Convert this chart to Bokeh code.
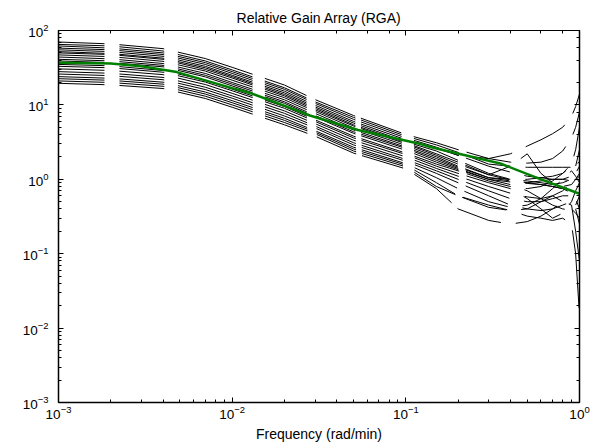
from bokeh.plotting import figure
from bokeh.models import LogAxis, Range1d
from bokeh.embed import file_html
from bokeh.resources import INLINE

# Frequency grid (rad/min) for the RGA element curves
freq = [0.001, 0.002, 0.004, 0.007, 0.01, 0.02, 0.03, 0.05, 0.1, 0.15,
        0.2, 0.3, 0.4, 0.5, 0.6, 0.7, 0.8, 0.9, 0.95, 1.0]

rga_01 = [70, 66, 57, 42, 32, 18.5, 11.8, 7.2, 4.0, 3.1, 2.5, 1.9, 1.7, 1.65, 1.7, 1.9, 2.4, 3.6, 5.0, 8.0]
rga_02 = [65, 62, 53, 39, 29.5, 17, 11, 6.8, 3.8, 2.9, 2.3, 1.6, 1.5, 1.45, 1.45, 1.45, 1.45, 1.45, 1.5, 1.6]
rga_03 = [62, 58, 50, 37, 28, 16.2, 10.5, 6.4, 3.6, 2.7, 2.1, 1.5, 1.25, 1.1, 1.05, 1.0, 1.0, 1.1, 1.5, 2.5]
rga_04 = [58, 55, 47.5, 35, 26.5, 15.3, 9.9, 6.0, 3.4, 2.6, 2.1, 1.9, 2.2, 2.8, 3.4, 4.1, 5.0, 7.0, 9.5, 14]
rga_05 = [55, 52, 45, 33, 25, 14.5, 9.4, 5.7, 3.2, 2.4, 1.8, 1.2, 1.0, 0.95, 0.9, 0.85, 0.9, 1.0, 1.2, 1.5]
rga_06 = [52, 49, 42.5, 31.5, 24, 13.8, 9.0, 5.4, 3.1, 2.2, 1.7, 1.15, 0.98, 0.9, 0.85, 0.8, 0.75, 0.65, 0.55, 0.4]
rga_07 = [50, 47.5, 41, 30, 23, 13.2, 8.6, 5.2, 3.0, 2.1, 1.6, 1.15, 1.5, 2.2, 1.2, 0.9, 0.8, 0.85, 1.0, 1.2]
rga_08 = [47, 44.5, 38.5, 28.5, 21.5, 12.5, 8.2, 4.9, 2.85, 2.0, 1.5, 1.05, 0.95, 0.9, 0.95, 1.0, 1.0, 0.95, 0.9, 0.8]
rga_09 = [44, 41.5, 36, 26.5, 20, 11.7, 7.7, 4.6, 2.7, 1.9, 1.45, 1.05, 1.0, 1.0, 1.05, 1.1, 1.2, 1.6, 2.5, 5.0]
rga_10 = [41, 39, 34, 25, 19, 11, 7.2, 4.35, 2.6, 1.8, 1.4, 1.0, 0.92, 0.88, 0.85, 0.8, 0.75, 0.7, 0.7, 0.75]
rga_11 = [39, 37, 32.5, 23.8, 18, 10.5, 6.9, 4.15, 2.45, 1.7, 1.35, 1.0, 0.85, 0.7, 0.55, 0.45, 0.4, 0.38, 0.45, 0.6]
rga_12 = [35, 33.5, 29, 21.5, 16.3, 9.5, 6.3, 3.8, 2.25, 1.6, 1.3, 0.95, 0.8, 0.75, 0.8, 0.95, 1.2, 1.5, 1.6, 1.7]
rga_13 = [33, 31.5, 27.5, 20.3, 15.5, 9.0, 6.0, 3.6, 2.15, 1.5, 1.2, 0.9, 0.75, 0.55, 0.4, 0.3, 0.35, 0.5, 0.7, 0.9]
rga_14 = [30.5, 29, 25.5, 18.8, 14.3, 8.3, 5.6, 3.35, 2.0, 1.4, 1.1, 0.8, 0.65, 0.58, 0.55, 0.6, 0.7, 0.9, 1.0, 1.1]
rga_15 = [28, 26.6, 23.4, 17.3, 13.2, 7.7, 5.2, 3.1, 1.85, 1.3, 1.0, 0.7, 0.55, 0.5, 0.5, 0.55, 0.6, 0.6, 0.55, 0.5]
rga_16 = [26, 24.7, 21.8, 16.1, 12.3, 7.1, 4.9, 2.9, 1.75, 1.2, 0.9, 0.6, 0.45, 0.4, 0.38, 0.4, 0.45, 0.5, 0.4, 0.25]
rga_17 = [24, 22.8, 20.2, 14.9, 11.4, 6.6, 4.5, 2.7, 1.62, 1.05, 0.75, 0.5, 0.42, 0.45, 0.55, 0.75, 1.0, 1.3, 1.1, 0.9]
rga_18 = [22.5, 21.4, 19, 14, 10.7, 6.2, 4.3, 2.55, 1.55, 0.9, 0.6, 0.42, 0.38, 0.4, 0.5, 0.6, 0.5, 0.4, 0.35, 0.3]
rga_19 = [21, 20, 17.8, 13.1, 10, 5.8, 4.1, 2.4, 1.47, 0.8, 0.6, 0.45, 0.38, 0.32, 0.3, 0.28, 0.3, 0.25, 0.1, 0.015]
rga_20 = [19.5, 18.6, 16.6, 12.2, 9.3, 5.4, 3.8, 2.25, 1.38, 0.75, 0.4, 0.28, 0.25, 0.27, 0.32, 0.4, 0.5, 0.45, 0.2, 0.08]

# Green reference curve
green_freq = [0.001, 0.002, 0.003, 0.0048, 0.01, 0.013, 0.025, 0.028, 0.053, 0.12, 0.14, 0.35, 0.6, 1.0]
green_rga = [37, 36, 33, 27.6, 16.8, 14.2, 8.0, 7.2, 4.6, 3.0, 2.7, 1.63, 1.0, 0.64]

curves = [rga_01, rga_02, rga_03, rga_04, rga_05, rga_06, rga_07, rga_08, rga_09, rga_10,
          rga_11, rga_12, rga_13, rga_14, rga_15, rga_16, rga_17, rga_18, rga_19, rga_20]

FONT = "Liberation Sans"
DASH = "46 15 45 14 78 13 45 10 43 6 43 13 47 8"

p = figure(width=606, height=448, x_axis_type="log", y_axis_type="log",
           x_range=Range1d(1e-3, 1), y_range=Range1d(1e-3, 1e2),
           output_backend="svg", toolbar_location=None,
           min_border_left=58, min_border_right=27, min_border_top=30, min_border_bottom=46)
p.grid.visible = False
p.outline_line_color = None
p.background_fill_color = "white"

bottom = p.below[0]
left = p.left[0]

for vals in curves:
    p.line(freq, vals, line_color="black", line_width=1, line_dash=DASH)
p.line(green_freq, green_rga, line_color="#008000", line_width=2.5)

top = LogAxis()
right = LogAxis()
p.add_layout(top, "above")
p.add_layout(right, "right")

for ax in [bottom, left, top, right]:
    ax.major_tick_in = 5
    ax.major_tick_out = 0
    ax.minor_tick_in = 3
    ax.minor_tick_out = 0
    ax.axis_line_color = "black"
    ax.axis_line_width = 1.5
    ax.major_tick_line_color = "black"
    ax.minor_tick_line_color = "black"
    ax.major_label_text_font = FONT
    ax.major_label_text_font_size = "13.5px"
    ax.major_label_text_color = "black"
    ax.axis_label_text_color = "black"

top.axis_line_width = 1
for ax in [top, right]:
    ax.major_label_text_font_size = "1px"
    ax.major_label_text_alpha = 0
    ax.major_label_standoff = 0

top.axis_label = "Relative Gain Array (RGA)"
top.axis_label_text_font = FONT
top.axis_label_text_font_size = "14px"
top.axis_label_text_font_style = "normal"
top.axis_label_standoff = 5

bottom.axis_label = "Frequency (rad/min)"
bottom.axis_label_text_font = FONT
bottom.axis_label_text_font_size = "14px"
bottom.axis_label_text_font_style = "normal"
bottom.axis_label_standoff = 4
bottom.major_label_standoff = 3
left.major_label_standoff = 10

open("out.html", "w").write(file_html(p, INLINE))
